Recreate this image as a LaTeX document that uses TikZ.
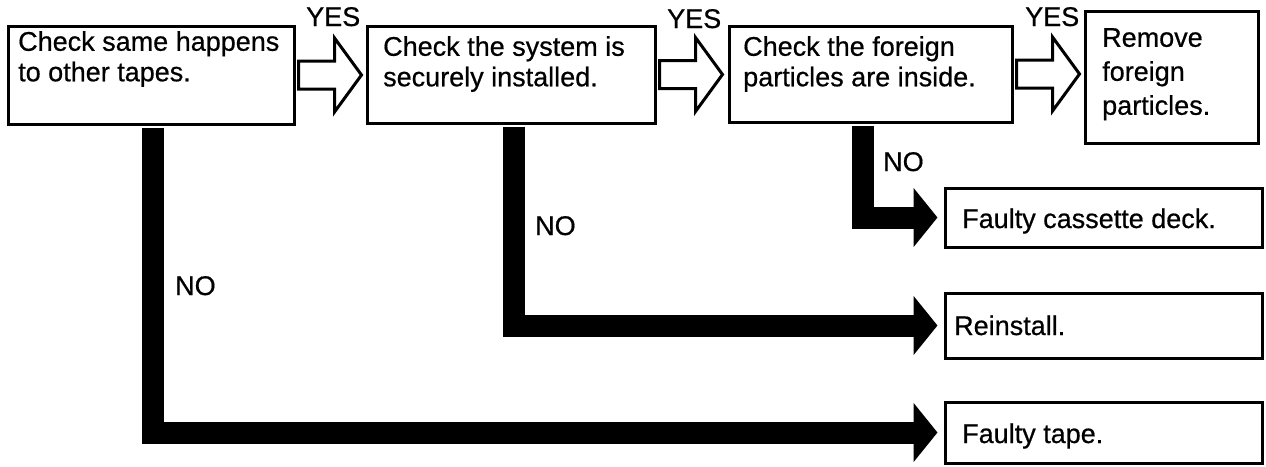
\documentclass[tikz,border=0pt]{standalone}
\usepackage{fontspec}
\setmainfont{Liberation Sans}
\newfontfamily\diafont[FakeBold=0.6]{Liberation Sans}
\usetikzlibrary{fit,arrows.meta,calc}
\begin{document}
\begin{tikzpicture}[x=1pt,y=-1pt,
  box/.style={draw=black, line width=3pt, inner sep=0pt, line join=miter},
  txt/.style={font=\diafont\fontsize{27}{30.5}\selectfont, align=left, inner sep=0pt, anchor=north west},
  lbl/.style={font=\diafont\fontsize{27}{30.5}\selectfont, inner sep=0pt, anchor=base west},
  bar/.style={draw=black, line width=22pt, line join=miter, line cap=butt,
    -{Triangle[length={24pt 0},width={58pt 0}]}},
  hollow/.style={draw=black, fill=white, line width=3pt, line join=miter}]
\fill[white] (0,0) rectangle (1266,466);
\useasboundingbox (0,0) rectangle (1266,466);

% boxes
\node[box, fit={(8,26) (294,124)}] (b1) {};
\node[txt] (t1) at (18,31) {Check same happens\\to other tapes.};
\node[box, fit={(367,26) (655,123)}] (b2) {};
\node[txt] (t2) at (383,36) {Check the system is\\securely installed.};
\node[box, fit={(729,26) (1012,122)}] (b3) {};
\node[txt] (t3) at (743,36) {Check the foreign\\particles are inside.};
\node[box, fit={(1085,11) (1258,143)}] (b4) {};
\node[txt, font=\diafont\fontsize{27}{34}\selectfont] (t4) at (1102,28) {Remove\\foreign\\particles.};
\node[box, fit={(945,188) (1262,247)}] (b5) {};
\node[lbl] (t5) at (962,228) {Faulty cassette deck.};
\node[box, fit={(945,293) (1262,358)}] (b6) {};
\node[lbl] (t6) at (954,335) {Reinstall.};
\node[box, fit={(945,402) (1262,463)}] (b7) {};
\node[lbl] (t7) at (962,443) {Faulty tape.};

% hollow YES arrows
\draw[hollow] ([xshift=3pt]b1.east) ++(0,-14) -- ++(36,0) -- ++(0,-23) -- ++(27,37) -- ++(-27,37) -- ++(0,-23) -- ++(-36,0) -- cycle;
\draw[hollow] ([xshift=3pt]b2.east) ++(0,-14) -- ++(36,0) -- ++(0,-23) -- ++(27,37) -- ++(-27,37) -- ++(0,-23) -- ++(-36,0) -- cycle;
\draw[hollow] ([xshift=3pt]b3.east) ++(0,-14) -- ++(36,0) -- ++(0,-23) -- ++(27,37) -- ++(-27,37) -- ++(0,-23) -- ++(-36,0) -- cycle;

\node[lbl] (yes1) at (306,26) {YES};
\node[lbl] (yes2) at (667,28) {YES};
\node[lbl] (yes3) at (1025,26) {YES};

% black NO arrows
\draw[bar] ([xshift=1.5pt,yshift=-2pt]b1.south) |- ([xshift=-6pt]b7.west);
\draw[bar] ([xshift=2.5pt,yshift=-2pt]b2.south) |- ([xshift=-6pt]b6.west);
\draw[bar] ([xshift=-8pt,yshift=-2pt]b3.south) |- ([xshift=-6pt]b5.west);

\node[lbl] (no1) at (175,295) {NO};
\node[lbl] (no2) at (535,235) {NO};
\node[lbl] (no3) at (883,171) {NO};
\end{tikzpicture}
\end{document}
